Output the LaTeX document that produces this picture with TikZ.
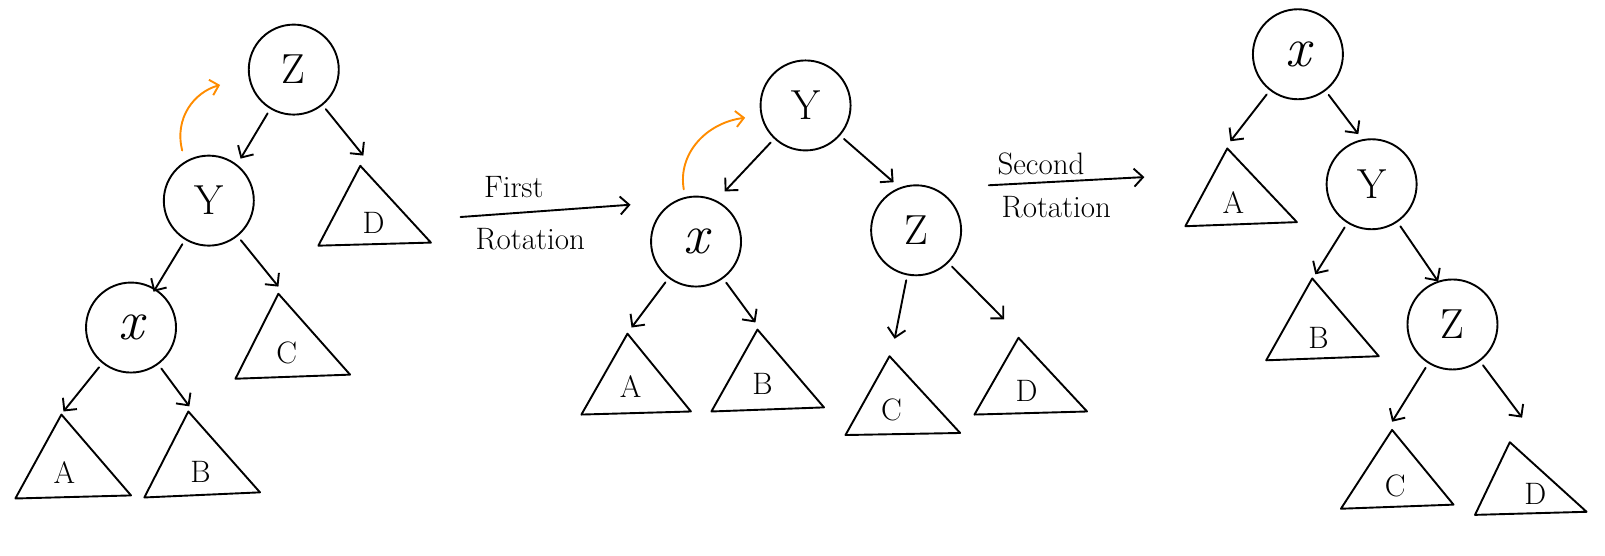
\documentclass[tikz,border=0pt]{standalone}
\usetikzlibrary{arrows.meta}
\definecolor{rotor}{RGB}{255,140,0}
\begin{document}
\begin{tikzpicture}[x=1.0236pt,y=-1.0236pt,line width=1.9pt,line cap=round,line join=round,
  nd/.style={circle,draw,minimum size=90pt,inner sep=0pt,font=\fontsize{42}{46}\selectfont},
  ndx/.style={nd,font=\fontsize{56}{60}\selectfont\itshape},
  lb/.style={inner sep=0pt,font=\fontsize{31}{34}\selectfont},
  txt/.style={inner sep=0pt,font=\fontsize{31}{34}\selectfont},
  arr/.style={-{Straight Barb[length=9pt,width=18pt]},shorten <=5pt},
  rot/.style={draw=rotor,-{Straight Barb[length=8pt,width=16pt]}},
  tri/.style={draw}]
\useasboundingbox (0,0) rectangle (1568,543);

% ---------- tree 1 ----------
\node[nd]  (z1) at (287,68)  {Z};
\node[nd]  (y1) at (204,196) {Y};
\node[ndx] (x1) at (128,320) {x};
\coordinate (D1) at (352,162); \draw (D1) -- (311,240) -- (421,237) -- cycle;
\coordinate (C1) at (272,287); \draw (C1) -- (230,370) -- (342,366) -- cycle;
\coordinate (A1) at (60,405);  \draw (A1) -- (15,487) -- (128,484) -- cycle;
\coordinate (B1) at (184,402); \draw (B1) -- (141,486) -- (254,481) -- cycle;
\node[lb] (D1l) at (365,218) {D};
\node[lb] (C1l) at (280,345) {C};
\node[lb] (A1l) at (63,462)  {A};
\node[lb] (B1l) at (196,461) {B};
\coordinate (e1a) at (235,155); \coordinate (e1b) at (355,152);
\coordinate (e1c) at (150,285); \coordinate (e1d) at (272,280);
\coordinate (e1e) at (62,402);  \coordinate (e1f) at (185,397);
\draw[arr] (z1) -- (e1a);
\draw[arr] (z1) -- (e1b);
\draw[arr] (y1) -- (e1c);
\draw[arr] (y1) -- (e1d);
\draw[arr] (x1) -- (e1e);
\draw[arr] (x1) -- (e1f);
\coordinate (o1s) at (178,147); \coordinate (o1e) at (215,83);
\draw[rot] (o1s) .. controls (170,115) and (190,90) .. (o1e);

% ---------- first rotation ----------
\node[txt] (t1a) at (502,183) {First};
\node[txt] (t1b) at (518,234) {Rotation};
\coordinate (r1s) at (450,212); \coordinate (r1e) at (616,200);
\draw[-{Straight Barb[length=9pt,width=18pt]}] (r1s) -- (r1e);

% ---------- tree 2 ----------
\node[nd]  (y2) at (787,103) {Y};
\node[ndx] (x2) at (680,236) {x};
\node[nd]  (z2) at (895,225) {Z};
\coordinate (A2) at (613,326); \draw (A2) -- (568,405) -- (675,402) -- cycle;
\coordinate (B2) at (740,322); \draw (B2) -- (695,402) -- (805,398) -- cycle;
\coordinate (C2) at (869,348); \draw (C2) -- (826,425) -- (938,423) -- cycle;
\coordinate (D2) at (995,330); \draw (D2) -- (952,405) -- (1062,402) -- cycle;
\node[lb] (A2l) at (616,378)  {A};
\node[lb] (B2l) at (745,375)  {B};
\node[lb] (C2l) at (871,400)  {C};
\node[lb] (D2l) at (1003,382) {D};
\coordinate (e2a) at (708,187); \coordinate (e2b) at (873,178);
\coordinate (e2c) at (617,320); \coordinate (e2d) at (738,315);
\coordinate (e2e) at (874,331); \coordinate (e2f) at (981,312);
\draw[arr] (y2) -- (e2a);
\draw[arr] (y2) -- (e2b);
\draw[arr] (x2) -- (e2c);
\draw[arr] (x2) -- (e2d);
\draw[arr] (z2) -- (e2e);
\draw[arr] (z2) -- (e2f);
\coordinate (o2s) at (668,185); \coordinate (o2e) at (728,115);
\draw[rot] (o2s) .. controls (662,150) and (690,120) .. (o2e);

% ---------- second rotation ----------
\node[txt] (t2a) at (1017,160) {Second};
\node[txt] (t2b) at (1032,202) {Rotation};
\coordinate (r2s) at (966,181); \coordinate (r2e) at (1118,173);
\draw[-{Straight Barb[length=9pt,width=18pt]}] (r2s) -- (r2e);

% ---------- tree 3 ----------
\node[ndx] (x3) at (1268,53)  {x};
\node[nd]  (y3) at (1340,180) {Y};
\node[nd]  (z3) at (1419,317) {Z};
\coordinate (A3) at (1199,145); \draw (A3) -- (1158,221) -- (1267,217) -- cycle;
\coordinate (B3) at (1282,272); \draw (B3) -- (1237,352) -- (1347,348) -- cycle;
\coordinate (C3) at (1360,420); \draw (C3) -- (1310,497) -- (1420,493) -- cycle;
\coordinate (D3) at (1475,432); \draw (D3) -- (1441,503) -- (1550,500) -- cycle;
\node[lb] (A3l) at (1205,198) {A};
\node[lb] (B3l) at (1288,330) {B};
\node[lb] (C3l) at (1363,475) {C};
\node[lb] (D3l) at (1500,483) {D};
\coordinate (e3a) at (1202,138); \coordinate (e3b) at (1327,131);
\coordinate (e3c) at (1285,268); \coordinate (e3d) at (1405,275);
\coordinate (e3e) at (1360,412); \coordinate (e3f) at (1487,408);
\draw[arr] (x3) -- (e3a);
\draw[arr] (x3) -- (e3b);
\draw[arr] (y3) -- (e3c);
\draw[arr] (y3) -- (e3d);
\draw[arr] (z3) -- (e3e);
\draw[arr] (z3) -- (e3f);
\end{tikzpicture}
\end{document}
